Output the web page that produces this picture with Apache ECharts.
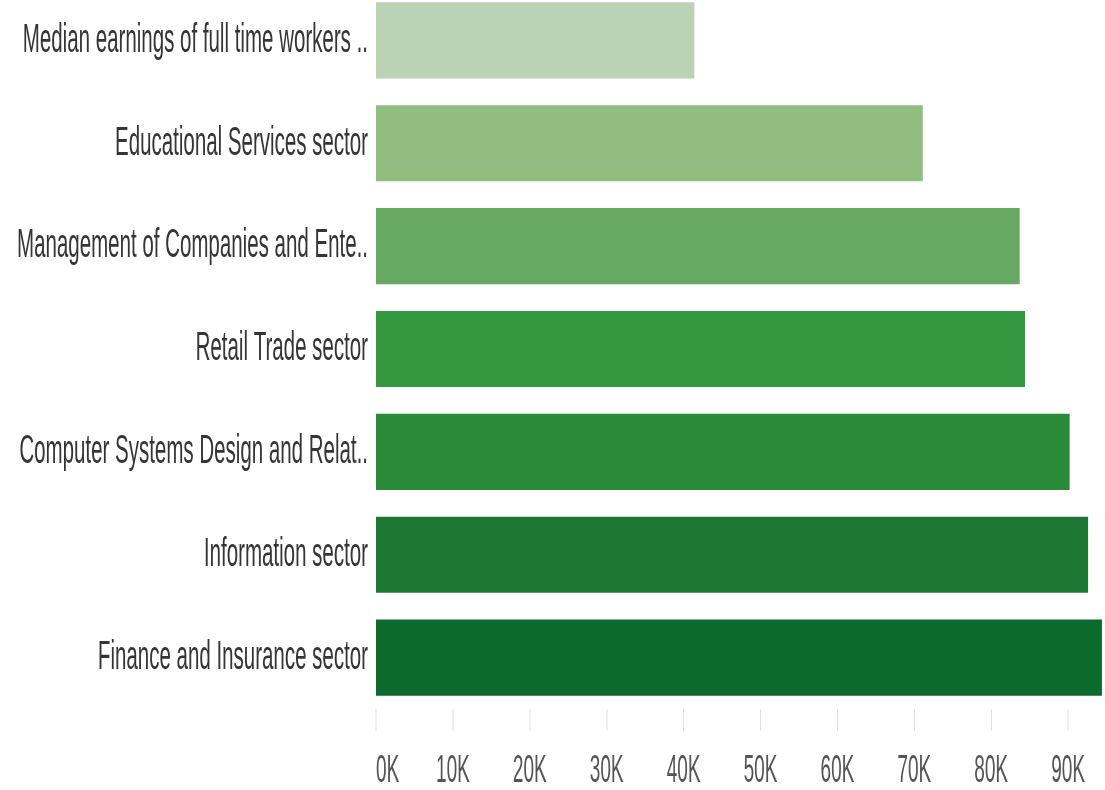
<!DOCTYPE html>
<html>
<head>
<meta charset="utf-8">
<script src="https://cdn.jsdelivr.net/npm/echarts@6/dist/echarts.min.js"></script>
<style>
  html, body { margin: 0; padding: 0; background: #ffffff; overflow: hidden; }
  #frame { width: 1105px; height: 790px; overflow: hidden; position: relative; }
  /* The chart is laid out twice as wide and squeezed back horizontally,
     which gives the tall, narrow lettering. */
  #chart {
    width: 2210px; height: 790px;
    transform: scaleX(0.5); transform-origin: 0 0;
    position: absolute; left: 0; top: 0;
  }
</style>
</head>
<body>
<div id="frame"><div id="chart"></div></div>
<script>
// Sectors listed top to bottom
const sectors = [
  'Median earnings of full time workers ..',
  'Educational Services sector',
  'Management of Companies and Ente..',
  'Retail Trade sector',
  'Computer Systems Design and Relat..',
  'Information sector',
  'Finance and Insurance sector'
];

// Median earnings (USD)
const earnings = [41400, 71100, 83700, 84400, 90200, 92600, 94400];

// Bar colours, light to dark
const barColors = ['#bcd2b4', '#8fbe80', '#67a862', '#33983f', '#2a8a38', '#1e7733', '#0c6a2c'];

const fontFamily = '"Liberation Sans", Arial, sans-serif';

const chart = echarts.init(document.getElementById('chart'), null, {
  renderer: 'canvas', width: 2210, height: 790
});

chart.setOption({
  backgroundColor: '#ffffff',
  animation: false,
  grid: {
    left: 752, top: -11, width: 1538, height: 720,
    containLabel: false,
    outerBoundsMode: 'none'
  },
  xAxis: {
    type: 'value',
    min: 0,
    max: 100000,
    interval: 10000,
    axisLine: { show: false },
    axisTick: { show: true, length: 22, lineStyle: { color: '#e2e2e2', width: 2 } },
    splitLine: { show: false },
    axisLabel: {
      margin: 44,
      showMaxLabel: false,
      alignMinLabel: 'left',
      color: '#555555',
      fontFamily: fontFamily,
      fontSize: 38,
      formatter: v => (v / 1000) + 'K'
    }
  },
  yAxis: {
    type: 'category',
    inverse: true,
    data: sectors,
    axisLine: { show: false },
    axisTick: { show: false },
    axisLabel: {
      margin: 16,
      color: '#353535',
      fontFamily: fontFamily,
      fontSize: 41
    }
  },
  series: [{
    type: 'bar',
    barCategoryGap: '26%',
    data: earnings.map((v, i) => ({ value: v, itemStyle: { color: barColors[i] } }))
  }]
});
</script>
</body>
</html>
